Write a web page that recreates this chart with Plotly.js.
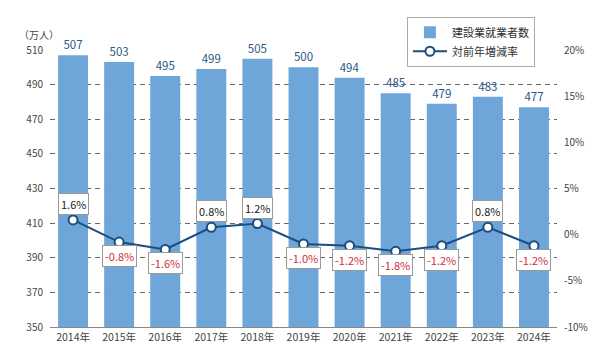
<!DOCTYPE html>
<html><head><meta charset="utf-8">
<script src="https://cdn.plot.ly/plotly-3.0.1.min.js"></script>
<style>html,body{margin:0;padding:0;background:#fff}#c{width:590px;height:353px}</style>
</head><body><div id="c"></div>
<script>
const years = ['2014年','2015年','2016年','2017年','2018年','2019年','2020年','2021年','2022年','2023年','2024年'];
const workers = [507,503,495,499,505,500,494,485,479,483,477];
const changeRate = [1.6,-0.8,-1.6,0.8,1.2,-1.0,-1.2,-1.8,-1.2,0.8,-1.2];
const leftTicks = [350,370,390,410,430,450,470,490,510];
const rightTicks = [-10,-5,0,5,10,15,20];
const rightTickText = ['-10%','-5%','0%','5%','10%','15%','20%'];

const FONT = '"Noto Sans CJK JP", "Noto Sans", sans-serif';
const barColor = '#6fa6da';
const lineColor = '#1b4d80';

const traces = [
  {type:'bar', x:years, y:workers, name:'建設業就業者数',
   marker:{color:barColor}, text:workers.map(String), textposition:'outside',
   cliponaxis:false, textfont:{color:'#2a5785', size:11.5, family:FONT},
   hoverinfo:'skip'},
  {type:'scatter', mode:'lines+markers', x:years, y:changeRate, yaxis:'y2', name:'対前年増減率',
   line:{color:lineColor, width:2},
   marker:{color:'#fff', size:9, line:{color:lineColor, width:2}},
   cliponaxis:false}
];

const annotations = changeRate.map((v,i)=>({
  x:years[i], y:v, yref:'y2', xref:'x',
  text:v.toFixed(1) + '%',
  showarrow:false, yshift: v>0 ? 16 : -14,
  bgcolor:'#fff', bordercolor:'#9a9a9a', borderwidth:1, borderpad:2,
  font:{family:FONT, size:11, color: v>0 ? '#222' : '#d0303a'}
}));
annotations.push({xref:'paper', yref:'paper', x:-0.065, y:1.02, xanchor:'left', yanchor:'bottom',
  text:'（万人）', showarrow:false, font:{family:FONT, size:10, color:'#444'}});

const layout = {
  width:590, height:353,
  margin:{l:50, r:33, t:50, b:26, autoexpand:false},
  paper_bgcolor:'#fff', plot_bgcolor:'#fff',
  font:{family:FONT, color:'#444', size:10},
  bargap:0.35,
  showlegend:true,
  legend:{x:0.704, y:1.12, xanchor:'left', yanchor:'top', bordercolor:'#aaa', borderwidth:1,
    bgcolor:'#fff', font:{family:FONT, size:11, color:'#333'}, tracegroupgap:2,
    traceorder:'normal', itemwidth:34},
  xaxis:{type:'category', range:[-0.5, years.length-0.5], showline:true, linecolor:'#888', linewidth:1,
    ticks:'', automargin:false, tickfont:{family:FONT, size:10.5, color:'#444'}, showgrid:false},
  yaxis:{range:[350,510], tickvals:leftTicks, showgrid:true, gridcolor:'#666', griddash:'5px,4px',
    gridwidth:1, zeroline:false, ticks:'', automargin:false,
    tickfont:{family:FONT, size:10, color:'#444'}, ticklabelstandoff:6},
  yaxis2:{range:[-10,20], overlaying:'y', side:'right', tickvals:rightTicks, ticktext:rightTickText,
    showgrid:false, zeroline:false, ticks:'', automargin:false, ticklabelstandoff:6,
    tickfont:{family:FONT, size:10, color:'#444'}},
  annotations:annotations
};
Plotly.newPlot('c', traces, layout, {displayModeBar:false, staticPlot:true});
</script></body></html>
